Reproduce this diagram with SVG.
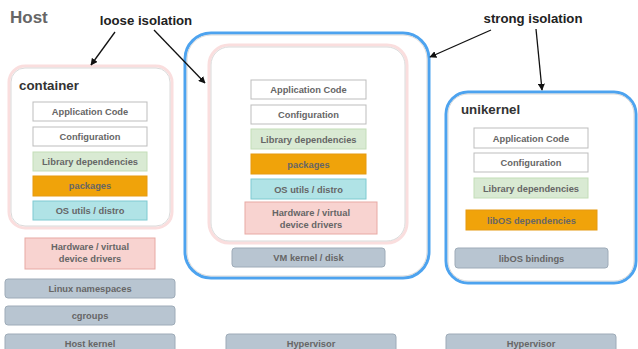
<svg xmlns="http://www.w3.org/2000/svg" width="638" height="349" viewBox="0 0 638 349">
<defs>
<marker id="ah" viewBox="0 0 10 10" refX="9" refY="5" markerWidth="7" markerHeight="7" markerUnits="userSpaceOnUse" orient="auto">
<path d="M0,0 L10,5 L0,10 z" fill="#111"/>
</marker>
<style>
text{font-family:"Liberation Sans",Arial,sans-serif;font-weight:bold}
.t{font-size:9.3px;fill:#666;text-anchor:middle}
.w{fill:#fff;stroke:#bdbdbd;stroke-width:1}
.g{fill:#d9ead3;stroke:#c3ddb8;stroke-width:1}
.o{fill:#f0a30a;stroke:#e69a10;stroke-width:1}
.c{fill:#b0e3e6;stroke:#7fcad1;stroke-width:1}
.p{fill:#f8d3d0;stroke:#e8a9a4;stroke-width:1}
.k{fill:#b8c5d1;stroke:#9eabb8;stroke-width:1}
.pinkframe{fill:#fff;stroke:#fadede;stroke-width:3}
.innerline{fill:none;stroke:#d0d0d0;stroke-width:0.8}
.blueframe{fill:#fff;stroke:#4da3ef;stroke-width:3}
.title{font-size:13.3px;fill:#333}
.lbl{font-size:13.2px;fill:#222}
.arr{stroke:#111;stroke-width:1.3;fill:none;marker-end:url(#ah)}
</style>
</defs>
<rect width="638" height="349" fill="#fff"/>
<text x="10" y="23" style="font-size:17px;fill:#666">Host</text>
<text x="146" y="25" class="lbl" text-anchor="middle">loose isolation</text>
<text x="533" y="23" class="lbl" text-anchor="middle">strong isolation</text>

<g id="container">
<rect class="pinkframe" x="9" y="66" width="163" height="162" rx="16"/>
<rect class="innerline" x="11" y="68" width="159" height="158" rx="14"/>
<text x="19" y="90" class="title">container</text>
<rect class="w" x="33" y="102" width="114" height="19"/><text class="t" x="90" y="115">Application Code</text>
<rect class="w" x="33" y="127" width="114" height="19"/><text class="t" x="90" y="140">Configuration</text>
<rect class="g" x="33" y="152" width="114" height="19"/><text class="t" x="90" y="165">Library dependencies</text>
<rect class="o" x="33" y="176" width="114" height="20"/><text class="t" x="90" y="189">packages</text>
<rect class="c" x="33" y="201" width="114" height="19"/><text class="t" x="90" y="214">OS utils / distro</text>
</g>
<g id="container-drivers">
<rect class="p" x="25" y="238" width="130" height="31"/>
<text class="t" x="90" y="250">Hardware / virtual</text>
<text class="t" x="90" y="262">device drivers</text>
</g>
<g id="linux-namespaces"><rect class="k" x="5" y="279" width="170" height="19" rx="3"/><text class="t" x="90" y="292">Linux namespaces</text></g>
<g id="cgroups"><rect class="k" x="5" y="306" width="170" height="19" rx="3"/><text class="t" x="90" y="319">cgroups</text></g>
<g id="host-kernel"><rect class="k" x="5" y="334" width="170" height="22" rx="3"/><text class="t" x="90" y="347">Host kernel</text></g>

<g id="vm">
<rect class="blueframe" x="185" y="33" width="244" height="245" rx="26"/>
<rect class="innerline" x="187" y="35" width="240" height="241" rx="24"/>
<rect class="pinkframe" x="209" y="45" width="198" height="198" rx="20"/>
<rect class="innerline" x="211" y="47" width="194" height="194" rx="18"/>
<rect class="w" x="251" y="80" width="115" height="19"/><text class="t" x="308.5" y="93">Application Code</text>
<rect class="w" x="251" y="105" width="115" height="19"/><text class="t" x="308.5" y="118">Configuration</text>
<rect class="g" x="251" y="129" width="115" height="20"/><text class="t" x="308.5" y="142.5">Library dependencies</text>
<rect class="o" x="251" y="154" width="115" height="20"/><text class="t" x="308.5" y="167.5">packages</text>
<rect class="c" x="251" y="179" width="115" height="20"/><text class="t" x="308.5" y="192.5">OS utils / distro</text>
<rect class="p" x="245" y="202" width="132" height="32"/>
<text class="t" x="311" y="216">Hardware / virtual</text>
<text class="t" x="311" y="228">device drivers</text>
<rect class="k" x="232" y="248" width="153" height="19" rx="3"/><text class="t" x="308.5" y="261">VM kernel / disk</text>
</g>
<g id="hypervisor-vm"><rect class="k" x="226" y="334" width="170" height="22" rx="3"/><text class="t" x="311" y="347">Hypervisor</text></g>

<g id="unikernel">
<rect class="blueframe" x="446" y="92" width="190" height="191" rx="22"/>
<rect class="innerline" x="448" y="94" width="186" height="187" rx="20"/>
<text x="461" y="114" class="title">unikernel</text>
<rect class="w" x="474" y="128" width="114" height="20"/><text class="t" x="531" y="141.5">Application Code</text>
<rect class="w" x="474" y="153" width="114" height="19"/><text class="t" x="531" y="166">Configuration</text>
<rect class="g" x="474" y="178" width="114" height="20"/><text class="t" x="531" y="191.5">Library dependencies</text>
<rect class="o" x="466" y="210" width="131" height="20"/><text class="t" x="531.5" y="223.5">libOS dependencies</text>
<rect class="k" x="455" y="248" width="153" height="20" rx="3"/><text class="t" x="531.5" y="261.5">libOS bindings</text>
</g>
<g id="hypervisor-uk"><rect class="k" x="446" y="334" width="170" height="22" rx="3"/><text class="t" x="531" y="347">Hypervisor</text></g>

<g id="connectors">
<line class="arr" x1="115" y1="32" x2="91" y2="65"/>
<line class="arr" x1="154" y1="30" x2="205" y2="83"/>
<line class="arr" x1="491" y1="30" x2="430" y2="57"/>
<line class="arr" x1="536" y1="29" x2="542" y2="90"/>
</g>
</svg>
